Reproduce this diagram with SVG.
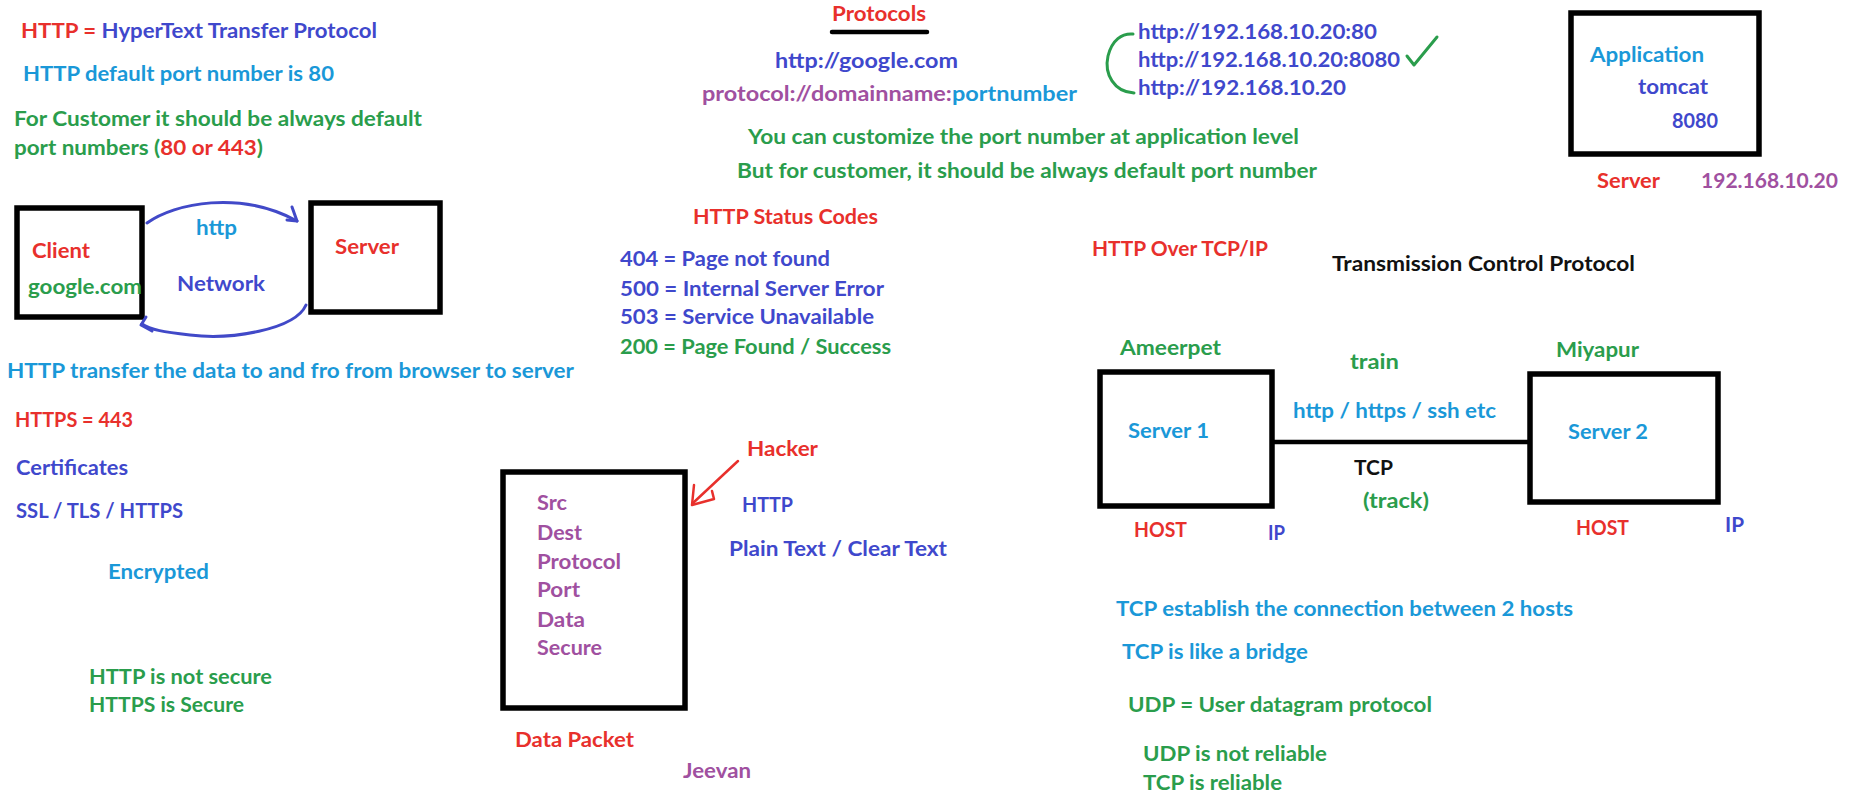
<svg xmlns="http://www.w3.org/2000/svg" width="1861" height="810" viewBox="0 0 1861 810">
<style>
text{font-family:Lato,"Liberation Sans",sans-serif;font-weight:700;font-size:21px}
.r{fill:#e8302c}.i{fill:#3f48cc}.b{fill:#1a98d8}.g{fill:#2a9d4c}.p{fill:#a050a0}.k{fill:#111}
.box{fill:none;stroke:#000;stroke-width:5.5}
.arc{fill:none;stroke:#4149c8;stroke-width:3;stroke-linecap:round;stroke-linejoin:round}
</style>
<rect width="1861" height="810" fill="#fff"/>

<g id="intro">
<text x="21" y="38" textLength="356" lengthAdjust="spacingAndGlyphs"><tspan class="r">HTTP = </tspan><tspan class="i">HyperText Transfer Protocol</tspan></text>
<text class="b" x="23" y="81" textLength="311" lengthAdjust="spacingAndGlyphs">HTTP default port number is 80</text>
<text class="g" x="14" y="126" textLength="408" lengthAdjust="spacingAndGlyphs">For Customer it should be always default</text>
<text x="14" y="155" textLength="249" lengthAdjust="spacingAndGlyphs"><tspan class="g">port numbers (</tspan><tspan class="r">80 or 443</tspan><tspan class="g">)</tspan></text>
</g>

<g id="client">
<rect class="box" x="17" y="208" width="125" height="109"/>
<text class="r" x="32" y="258" textLength="58" lengthAdjust="spacingAndGlyphs">Client</text>
<text class="g" x="28" y="294" textLength="114" lengthAdjust="spacingAndGlyphs">google.com</text>
</g>
<g id="server">
<rect class="box" x="311" y="203" width="129" height="109"/>
<text class="r" x="335" y="254" textLength="64" lengthAdjust="spacingAndGlyphs">Server</text>
</g>
<g id="connectors">
<path class="arc" d="M147,223 C175,203 240,190 297,221"/>
<path class="arc" d="M292,207 L297,221 L287,220"/>
<path class="arc" d="M306,305 C295,330 230,340 190,335 C165,332 150,330 142,324"/>
<path class="arc" d="M146,317 L141,325 L152,331"/>
<line x1="1272" y1="442" x2="1530" y2="442" stroke="#000" stroke-width="4.5"/>
<path d="M738,461 L693,503" fill="none" stroke="#e8302c" stroke-width="2.5" stroke-linecap="round"/>
<path d="M694,485 L692,505 L714,499 L712,491" fill="none" stroke="#e8302c" stroke-width="2.5" stroke-linecap="round" stroke-linejoin="round"/>
</g>
<g id="network-labels">
<text class="b" x="196" y="235" textLength="41" lengthAdjust="spacingAndGlyphs">http</text>
<text class="i" x="177" y="291" textLength="88" lengthAdjust="spacingAndGlyphs">Network</text>
</g>

<g id="left-notes">
<text class="b" x="7" y="378" textLength="567" lengthAdjust="spacingAndGlyphs">HTTP transfer the data to and fro from browser to server</text>
<text class="r" x="15" y="427" textLength="118" lengthAdjust="spacingAndGlyphs">HTTPS = 443</text>
<text class="i" x="16" y="475" textLength="112" lengthAdjust="spacingAndGlyphs">Certificates</text>
<text class="i" x="16" y="518" textLength="167" lengthAdjust="spacingAndGlyphs">SSL / TLS / HTTPS</text>
<text class="b" x="108" y="579" textLength="101" lengthAdjust="spacingAndGlyphs">Encrypted</text>
<text class="g" x="89" y="684" textLength="183" lengthAdjust="spacingAndGlyphs">HTTP is not secure</text>
<text class="g" x="89" y="712" textLength="155" lengthAdjust="spacingAndGlyphs">HTTPS is Secure</text>
</g>

<g id="protocols">
<text class="r" x="832" y="21" textLength="94" lengthAdjust="spacingAndGlyphs">Protocols</text>
<line x1="832" y1="32" x2="927" y2="32" stroke="#000" stroke-width="4.5" stroke-linecap="round"/>
<text class="i" x="775" y="68" textLength="183" lengthAdjust="spacingAndGlyphs">http://google.com</text>
<text x="702" y="101" textLength="375" lengthAdjust="spacingAndGlyphs"><tspan class="p">protocol://domainname:</tspan><tspan class="b">portnumber</tspan></text>
<text class="g" x="748" y="144" textLength="551" lengthAdjust="spacingAndGlyphs">You can customize the port number at application level</text>
<text class="g" x="737" y="178" textLength="580" lengthAdjust="spacingAndGlyphs">But for customer, it should be always default port number</text>
</g>

<g id="status-codes">
<text class="r" x="693" y="224" textLength="185" lengthAdjust="spacingAndGlyphs">HTTP Status Codes</text>
<text class="i" x="620" y="266" textLength="210" lengthAdjust="spacingAndGlyphs">404 = Page not found</text>
<text class="i" x="620" y="296" textLength="264" lengthAdjust="spacingAndGlyphs">500 = Internal Server Error</text>
<text class="i" x="620" y="324" textLength="254" lengthAdjust="spacingAndGlyphs">503 = Service Unavailable</text>
<text class="g" x="620" y="354" textLength="271" lengthAdjust="spacingAndGlyphs">200 = Page Found / Success</text>
</g>

<g id="urls">
<path d="M1133,34 C1122,33 1112,40 1108,56 C1104,74 1114,92 1134,93" fill="none" stroke="#2a9d4c" stroke-width="3" stroke-linecap="round"/>
<text class="i" x="1138" y="39" textLength="239" lengthAdjust="spacingAndGlyphs">http://192.168.10.20:80</text>
<text class="i" x="1138" y="67" textLength="262" lengthAdjust="spacingAndGlyphs">http://192.168.10.20:8080</text>
<text class="i" x="1138" y="95" textLength="208" lengthAdjust="spacingAndGlyphs">http://192.168.10.20</text>
<path d="M1407,56 L1414,65 L1437,37" fill="none" stroke="#2a9d4c" stroke-width="3" stroke-linecap="round" stroke-linejoin="round"/>
</g>

<g id="app-server">
<rect class="box" x="1571" y="13" width="188" height="141"/>
<text class="b" x="1590" y="62" textLength="114" lengthAdjust="spacingAndGlyphs">Application</text>
<text class="i" x="1638" y="94" textLength="70" lengthAdjust="spacingAndGlyphs">tomcat</text>
<text class="i" x="1672" y="128" textLength="46" lengthAdjust="spacingAndGlyphs">8080</text>
<text class="r" x="1597" y="188" textLength="63" lengthAdjust="spacingAndGlyphs">Server</text>
<text class="p" x="1701" y="188" textLength="137" lengthAdjust="spacingAndGlyphs">192.168.10.20</text>
</g>

<g id="tcp-heading">
<text class="r" x="1092" y="256" textLength="176" lengthAdjust="spacingAndGlyphs">HTTP Over TCP/IP</text>
<text class="k" x="1332" y="271" textLength="303" lengthAdjust="spacingAndGlyphs">Transmission Control Protocol</text>
</g>

<g id="server1">
<text class="g" x="1120" y="355" textLength="101" lengthAdjust="spacingAndGlyphs">Ameerpet</text>
<rect class="box" x="1100" y="372" width="172" height="134"/>
<text class="b" x="1128" y="438" textLength="81" lengthAdjust="spacingAndGlyphs">Server 1</text>
<text class="r" x="1134" y="537" textLength="53" lengthAdjust="spacingAndGlyphs">HOST</text>
<text class="i" x="1268" y="540" textLength="17" lengthAdjust="spacingAndGlyphs">IP</text>
</g>
<g id="server2">
<text class="g" x="1556" y="357" textLength="83" lengthAdjust="spacingAndGlyphs">Miyapur</text>
<rect class="box" x="1530" y="374" width="188" height="128"/>
<text class="b" x="1568" y="439" textLength="80" lengthAdjust="spacingAndGlyphs">Server 2</text>
<text class="r" x="1576" y="535" textLength="53" lengthAdjust="spacingAndGlyphs">HOST</text>
<text class="i" x="1725" y="532" textLength="19" lengthAdjust="spacingAndGlyphs">IP</text>
</g>
<g id="link-labels">
<text class="g" x="1350" y="369" textLength="49" lengthAdjust="spacingAndGlyphs">train</text>
<text class="b" x="1293" y="418" textLength="203" lengthAdjust="spacingAndGlyphs">http / https / ssh etc</text>
<text class="k" x="1354" y="475" textLength="39" lengthAdjust="spacingAndGlyphs">TCP</text>
<text class="g" x="1363" y="508" textLength="66" lengthAdjust="spacingAndGlyphs">(track)</text>
</g>

<g id="tcp-notes">
<text class="b" x="1116" y="616" textLength="457" lengthAdjust="spacingAndGlyphs">TCP establish the connection between 2 hosts</text>
<text class="b" x="1122" y="659" textLength="186" lengthAdjust="spacingAndGlyphs">TCP is like a bridge</text>
<text class="g" x="1128" y="712" textLength="304" lengthAdjust="spacingAndGlyphs">UDP = User datagram protocol</text>
<text class="g" x="1143" y="761" textLength="184" lengthAdjust="spacingAndGlyphs">UDP is not reliable</text>
<text class="g" x="1143" y="790" textLength="139" lengthAdjust="spacingAndGlyphs">TCP is reliable</text>
</g>

<g id="data-packet">
<rect class="box" x="503" y="472" width="182" height="236"/>
<text class="p" x="537" y="510" textLength="30" lengthAdjust="spacingAndGlyphs">Src</text>
<text class="p" x="537" y="540" textLength="45" lengthAdjust="spacingAndGlyphs">Dest</text>
<text class="p" x="537" y="569" textLength="84" lengthAdjust="spacingAndGlyphs">Protocol</text>
<text class="p" x="537" y="597" textLength="43" lengthAdjust="spacingAndGlyphs">Port</text>
<text class="p" x="537" y="627" textLength="48" lengthAdjust="spacingAndGlyphs">Data</text>
<text class="p" x="537" y="655" textLength="65" lengthAdjust="spacingAndGlyphs">Secure</text>
<text class="r" x="515" y="747" textLength="119" lengthAdjust="spacingAndGlyphs">Data Packet</text>
</g>

<g id="hacker">
<text class="r" x="747" y="456" textLength="71" lengthAdjust="spacingAndGlyphs">Hacker</text>
<text class="i" x="742" y="512" textLength="51" lengthAdjust="spacingAndGlyphs">HTTP</text>
<text class="i" x="729" y="556" textLength="218" lengthAdjust="spacingAndGlyphs">Plain Text / Clear Text</text>
<text class="p" x="683" y="778" textLength="68" lengthAdjust="spacingAndGlyphs">Jeevan</text>
</g>
</svg>
